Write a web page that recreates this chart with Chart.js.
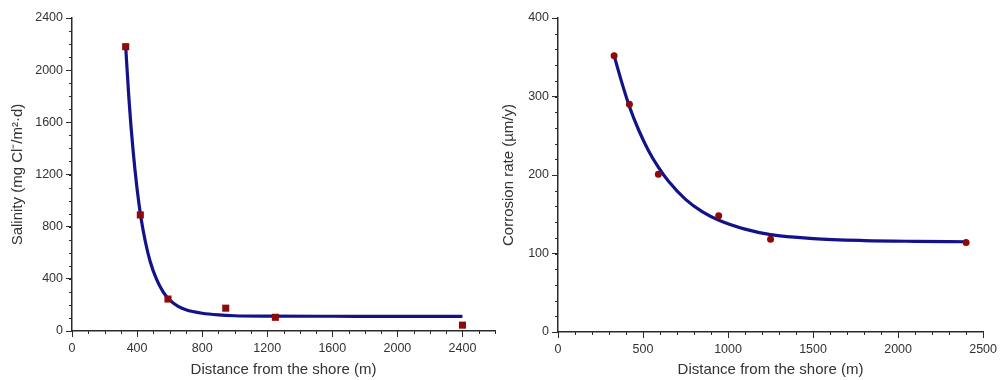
<!DOCTYPE html>
<html>
<head>
<meta charset="utf-8">
<script src="https://cdn.jsdelivr.net/npm/chart.js@4.4.0/dist/chart.umd.min.js"></script>
<style>
  html, body { margin: 0; padding: 0; background: #fff; }
  #wrap { position: relative; width: 1001px; height: 380px; }
  #salinityChart { position: absolute; left: 0; top: 0; }
  #corrosionChart { position: absolute; left: 500px; top: 0; }
</style>
</head>
<body>
<div id="wrap">
  <canvas id="salinityChart" width="500" height="380"></canvas>
  <canvas id="corrosionChart" width="501" height="380"></canvas>
</div>
<script>
// measured points (distance m)
const distances = [330, 420, 590, 945, 1250, 2400];
const salinity = [2180, 890, 245, 175, 105, 45];
const corrosion = [352, 290, 201, 148, 118, 114];

// fitted curves
const salinityFitX = [330, 350, 375, 400, 425, 450, 480, 520, 560, 600, 650, 700, 800, 900, 1000, 1200, 1600, 2000, 2400];
const salinityFitY = [2180, 1780, 1390, 1090, 860, 690, 535, 395, 300, 238, 190, 163, 136, 123, 117, 114, 113, 112, 112];
const corrosionFitX = [330, 375, 422, 475, 530, 590, 650, 750, 850, 950, 1100, 1250, 1500, 1800, 2100, 2400];
const corrosionFitY = [352, 318, 286, 257, 232, 210, 192, 169, 153, 142, 131, 124, 119, 116.5, 115.5, 115];

// tick labels
const salinityXTicks = [0, 400, 800, 1200, 1600, 2000, 2400];
const salinityYTicks = [0, 400, 800, 1200, 1600, 2000, 2400];
const corrosionXTicks = [0, 500, 1000, 1500, 2000, 2500];
const corrosionYTicks = [0, 100, 200, 300, 400];

const FONT = '"Liberation Sans", Arial, sans-serif';
const TEXT = '#333333';
const AXIS = '#2b2b2b';
const LINE = '#12128a';
const MARK = '#8e0a0a';

// minor tick marks, drawn outward like the major ones
const minorTicks = {
  id: 'minorTicks',
  afterDraw(chart, args, opts) {
    const ctx = chart.ctx;
    ctx.save();
    ctx.strokeStyle = AXIS;
    ctx.lineWidth = 1;
    ['x', 'y'].forEach(id => {
      const scale = chart.scales[id];
      const step = opts[id];
      if (!scale || !step) return;
      for (let v = scale.min; v <= scale.max + 1e-6; v += step) {
        ctx.beginPath();
        if (id === 'x') {
          const px = Math.round(scale.getPixelForValue(v)) + 0.5;
          ctx.moveTo(px, scale.top);
          ctx.lineTo(px, scale.top + 3);
        } else {
          const py = Math.round(scale.getPixelForValue(v)) + 0.5;
          ctx.moveTo(scale.right, py);
          ctx.lineTo(scale.right - 3, py);
        }
        ctx.stroke();
      }
    });
    ctx.restore();
  }
};

function toPoints(xs, ys) {
  return xs.map((x, i) => ({ x: x, y: ys[i] }));
}

function axis(min, max, ticks, title, fitSize, isX, titlePad) {
  return {
    type: 'linear',
    min: min,
    max: max,
    afterBuildTicks: s => { s.ticks = ticks.map(v => ({ value: v })); },
    afterFit: s => { if (isX) s.height = fitSize; else s.width = fitSize; },
    grid: { drawOnChartArea: false, drawTicks: true, tickLength: 6, color: AXIS, tickWidth: 1 },
    border: { display: true, color: AXIS, width: 1.5 },
    ticks: {
      color: TEXT, font: { family: FONT, size: 12.5 }, padding: isX ? 4 : 3,
      maxRotation: 0, autoSkip: false,
      callback: v => String(v)
    },
    title: { display: true, text: title, color: TEXT, font: { family: FONT, size: 15 }, padding: titlePad }
  };
}

function makeChart(id, pts, fit, pointStyle, radius, xs, ys, xMinor, yMinor, layout) {
  return new Chart(document.getElementById(id), {
    type: 'scatter',
    data: {
      datasets: [
        {
          data: pts,
          pointStyle: pointStyle,
          pointRadius: radius,
          pointBackgroundColor: MARK,
          pointBorderColor: MARK,
          pointBorderWidth: 0,
          order: 0
        },
        {
          data: fit,
          showLine: true,
          borderColor: LINE,
          borderWidth: 3.2,
          pointRadius: 0,
          cubicInterpolationMode: 'monotone',
          order: 1
        }
      ]
    },
    options: {
      responsive: false,
      animation: false,
      layout: { padding: layout.padding },
      plugins: {
        legend: { display: false },
        tooltip: { enabled: false },
        minorTicks: { x: xMinor, y: yMinor }
      },
      scales: {
        x: axis(xs.min, xs.max, xs.ticks, 'Distance from the shore (m)', layout.xHeight, true, { top: 2, bottom: 1 }),
        y: axis(ys.min, ys.max, ys.ticks, ys.title, layout.yWidth, false, { top: layout.yTitlePad, bottom: 2 })
      }
    },
    plugins: [minorTicks]
  });
}

makeChart('salinityChart',
  toPoints(distances, salinity), toPoints(salinityFitX, salinityFitY), 'rect', 5,
  { min: 0, max: 2600, ticks: salinityXTicks },
  { min: 0, max: 2400, ticks: salinityYTicks, title: 'Salinity (mg Cl\u207B/m\u00B2\u00B7d)' },
  100, 100,
  { padding: { top: 18, right: 5, left: 0, bottom: 0 }, xHeight: 49, yWidth: 72, yTitlePad: 9 });

makeChart('corrosionChart',
  toPoints(distances, corrosion), toPoints(corrosionFitX, corrosionFitY), 'circle', 3.5,
  { min: 0, max: 2500, ticks: corrosionXTicks },
  { min: 0, max: 400, ticks: corrosionYTicks, title: 'Corrosion rate (\u00B5m/y)' },
  100, 20,
  { padding: { top: 18, right: 15, left: 0, bottom: 0 }, xHeight: 48, yWidth: 58, yTitlePad: 0 });
</script>
</body>
</html>
